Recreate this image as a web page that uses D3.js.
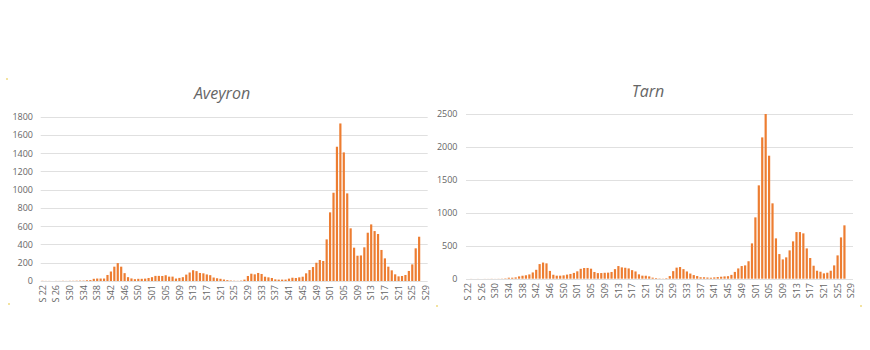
<!DOCTYPE html>
<html>
<head>
<meta charset="utf-8">
<script src="https://cdn.jsdelivr.net/npm/d3@7"></script>
<style>
  html, body { margin: 0; padding: 0; background: #fff; }
  svg { display: block; }
  text { font-family: "Open Sans", "Noto Sans", sans-serif; fill: #666; }
</style>
</head>
<body>
<svg id="chart" width="870" height="350"></svg>
<script>
// Weekly spans shown on the category axis: [year, first week, last week]
const weekSpans = [[2020, 22, 53], [2021, 1, 52], [2022, 1, 29]];

// Labels printed on the axis, one every fourth week
const tickLabels = ["S 22", "S 26", "S30", "S34", "S38", "S42", "S46", "S50",
  "S01", "S05", "S09", "S13", "S17", "S21", "S25", "S29", "S33", "S37", "S41",
  "S45", "S49", "S01", "S05", "S09", "S13", "S17", "S21", "S25", "S29"];

// Weekly counts, Aveyron (2020 S22 .. 2022 S29)
const aveyron = [
  2, 1, 1, 0, 1, 1, 2, 1, 2, 2, 3, 4, 4, 8, 10, 24, 27, 27, 27, 66, 104, 157, 196, 157, 86, 42,
  28, 20, 24, 24, 26, 33,
  42, 56, 56, 55, 63, 48, 48, 27, 34, 42, 70, 93, 118, 108, 88, 84, 72, 64, 38, 30, 24, 16,
  9, 5, 3, 2, 4, 15, 55, 80, 73, 88, 77, 47, 40, 33, 18, 15, 15, 15, 26, 36, 33, 40, 47, 84,
  120, 153, 200, 230, 219, 456,
  752, 967, 1471, 1726, 1409, 960, 577, 365, 277, 280, 369, 529, 620, 547, 515, 340, 248,
  157, 117, 73, 51, 55, 66, 110, 182, 358, 485, null, null
];

// Weekly counts, Tarn (2020 S22 .. 2022 S29)
const tarn = [
  0, 1, 0, 1, 0, 1, 1, 2, 1, 2, 3, 6, 15, 15, 20, 35, 45, 52, 65, 95, 135, 222, 245, 233, 118, 60,
  46, 46, 51, 62, 72, 88,
  112, 150, 162, 163, 152, 102, 85, 86, 90, 92, 102, 145, 192, 172, 166, 156, 130, 110, 66, 46,
  45, 35, 16, 10, 5, 3, 8, 40, 115, 168, 177, 145, 110, 78, 55, 40, 22, 22, 18, 15, 20, 25, 30,
  35, 38, 58, 103, 156, 192, 202, 265, 536,
  931, 1417, 2145, 2500, 1867, 1144, 612, 374, 293, 324, 430, 567, 708, 708, 688, 460, 314,
  197, 121, 106, 81, 91, 121, 202, 354, 627, 810, null, null
];

const aveyronTicks = [0, 200, 400, 600, 800, 1000, 1200, 1400, 1600, 1800];
const tarnTicks = [0, 500, 1000, 1500, 2000, 2500];

// Category keys built from the week spans
const weeks = [];
weekSpans.forEach(([yr, a, b]) => {
  for (let w = a; w <= b; w++) weeks.push(yr + "-S" + String(w).padStart(2, "0"));
});

const svg = d3.select("#chart");
const barColor = "#ED7D31";
const gridColor = "#e0e0e0";

function drawPanel(p) {
  const g = svg.append("g");

  const x = d3.scaleBand()
    .domain(weeks)
    .range([p.x0, p.x1])
    .paddingInner(0.36)
    .paddingOuter(0.18);

  const y = d3.scaleLinear()
    .domain([0, d3.max(p.ticks)])
    .range([p.yBase, p.yTop]);

  // Horizontal gridlines
  g.append("g").selectAll("line")
    .data(p.ticks)
    .join("line")
    .attr("x1", p.x0).attr("x2", p.x1)
    .attr("y1", d => Math.round(y(d)) + 0.5)
    .attr("y2", d => Math.round(y(d)) + 0.5)
    .attr("stroke", gridColor)
    .attr("stroke-width", 1);

  // Value axis labels
  const yAxis = d3.axisLeft(y).tickValues(p.ticks).tickFormat(d3.format("d"))
    .tickSize(0).tickPadding(0);
  const ya = g.append("g")
    .attr("transform", `translate(${p.yLabelX},0)`)
    .call(yAxis);
  ya.select(".domain").remove();
  ya.selectAll("text")
    .attr("font-size", 9)
    .attr("font-family", "'Open Sans', 'Noto Sans', sans-serif")
    .attr("fill", "#666");

  // Bars
  g.append("g").selectAll("rect")
    .data(weeks.map((w, i) => ({ w, v: p.values[i] })).filter(d => d.v != null))
    .join("rect")
    .attr("x", d => x(d.w))
    .attr("width", x.bandwidth())
    .attr("y", d => y(d.v))
    .attr("height", d => y(0) - y(d.v))
    .attr("fill", barColor);

  // Category labels, every fourth week, rotated
  const xa = g.append("g")
    .attr("transform", `translate(0,${p.xLabelY})`)
    .call(d3.axisBottom(x)
      .tickValues(weeks.filter((w, i) => i % 4 === 0))
      .tickFormat((w) => tickLabels[weeks.indexOf(w) / 4])
      .tickSize(0).tickPadding(0));
  xa.select(".domain").remove();
  xa.selectAll("text")
    .attr("font-size", 9)
    .attr("font-family", "'Open Sans', 'Noto Sans', sans-serif")
    .attr("fill", "#666")
    .attr("text-anchor", "end")
    .attr("transform", "rotate(-90)")
    .attr("x", 0)
    .attr("y", 0)
    .attr("dy", "0.35em");

  // Title
  g.append("text")
    .attr("x", p.titleX)
    .attr("y", p.titleY)
    .attr("text-anchor", "middle")
    .attr("font-size", 16)
    .attr("font-style", "italic")
    .attr("fill", "#595959")
    .text(p.title);
}

drawPanel({
  title: "Aveyron", titleX: 222, titleY: 99,
  values: aveyron, ticks: aveyronTicks,
  x0: 40.7, x1: 427.7, yTop: 116.7, yBase: 281,
  yLabelX: 33, xLabelY: 285
});

drawPanel({
  title: "Tarn", titleX: 648, titleY: 97,
  values: tarn, ticks: tarnTicks,
  x0: 466, x1: 853, yTop: 114, yBase: 278.7,
  yLabelX: 457.5, xLabelY: 283
});

// Faint corner marks of the chart frames
const marks = [[6, 78], [8, 303], [436, 305], [860, 305]];
svg.append("g").selectAll("rect")
  .data(marks)
  .join("rect")
  .attr("x", d => d[0]).attr("y", d => d[1])
  .attr("width", 2).attr("height", 2)
  .attr("fill", "#f3e3a0");
</script>
</body>
</html>
